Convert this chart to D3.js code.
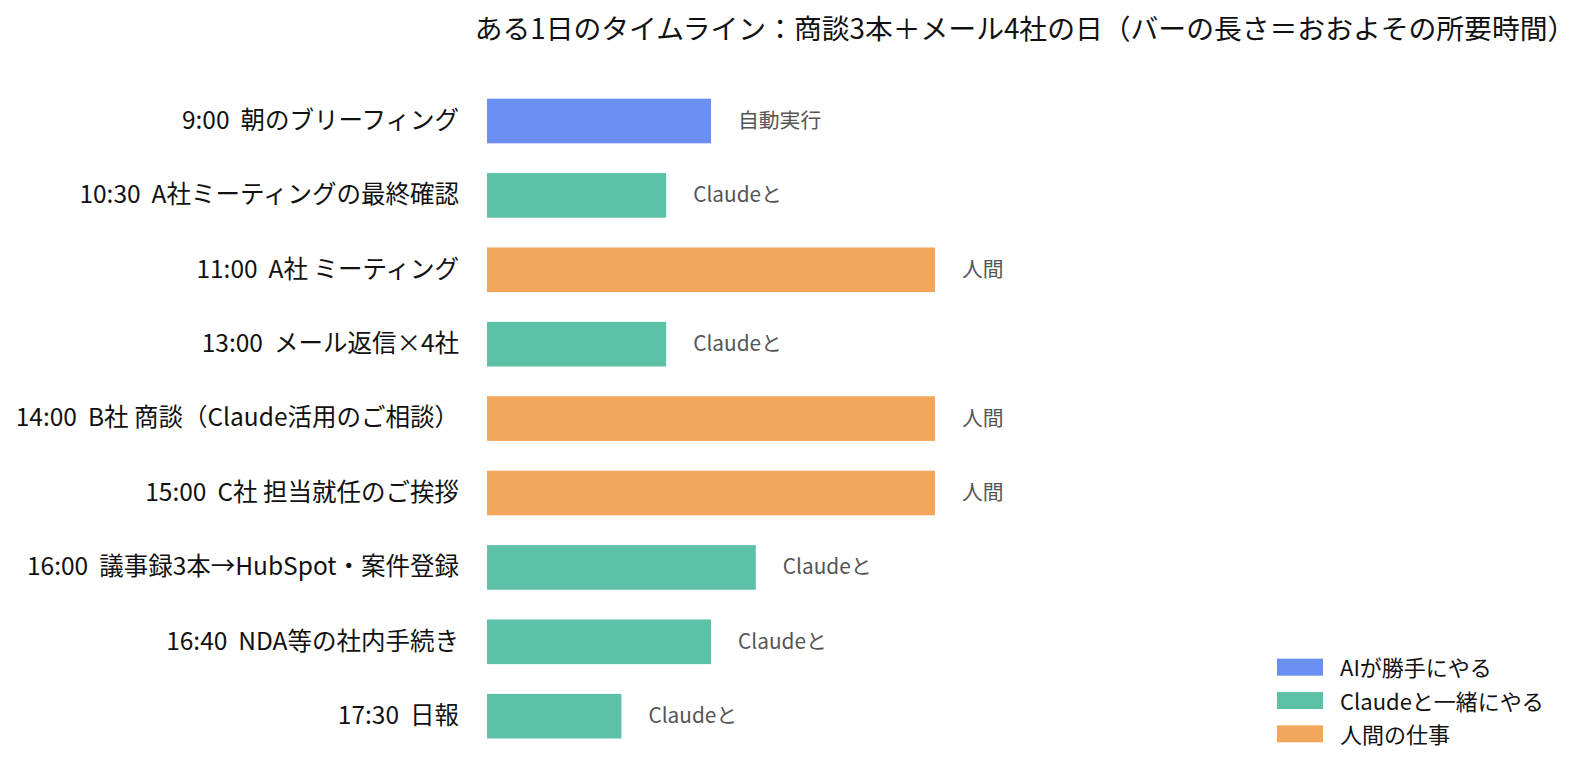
<!DOCTYPE html>
<html><head><meta charset="utf-8">
<script src="https://cdn.jsdelivr.net/npm/d3@7"></script>
<style>
body{margin:0;background:#fff;}
text{font-family:"Noto Sans CJK JP","Noto Sans",sans-serif;white-space:pre;}
</style></head><body>
<svg id="chart" width="1592" height="784"></svg>
<script>
const categories = ["9:00  朝のブリーフィング","10:30  A社ミーティングの最終確認","11:00  A社 ミーティング","13:00  メール返信×4社","14:00  B社 商談（Claude活用のご相談）","15:00  C社 担当就任のご挨拶","16:00  議事録3本→HubSpot・案件登録","16:40  NDA等の社内手続き","17:30  日報"];
const durations = [30,24,60,24,60,60,36,30,18];
const types = ["ai","claude","human","claude","human","human","claude","claude","claude"];
const barLabels = ["自動実行","Claudeと","人間","Claudeと","人間","人間","Claudeと","Claudeと","Claudeと"];
const legendKeys = ["ai","claude","human"];
const legendLabels = ["AIが勝手にやる","Claudeと一緒にやる","人間の仕事"];
const colors = ["#6c8ff4","#5dc1a8","#f1a65c"];
const title = "ある1日のタイムライン：商談3本＋メール4社の日（バーの長さ＝おおよその所要時間）";

const svg = d3.select("#chart");
const x = d3.scaleLinear().domain([0,60]).range([487,935]);
const y = d3.scaleBand().domain(categories).range([83.8,753.4]).paddingInner(0.4).paddingOuter(0.2);
const color = d3.scaleOrdinal().domain(legendKeys).range(colors);

svg.append("text").attr("x",1025).attr("y",26.5).attr("text-anchor","middle")
  .attr("dominant-baseline","central").attr("font-size",27.8).attr("fill","#111").text(title);

const yAxis = d3.axisLeft(y).tickSize(0).tickPadding(0);
const ga = svg.append("g").attr("transform","translate(459,0)").call(yAxis);
ga.select(".domain").remove();
ga.selectAll("text").attr("font-size",24.5).attr("fill","#111").attr("font-family",null);

const rows = categories.map((c,i)=>({c, v:durations[i], t:types[i], l:barLabels[i]}));
svg.append("g").selectAll("rect").data(rows).join("rect")
  .attr("x",x(0)).attr("y",d=>y(d.c)).attr("width",d=>x(d.v)-x(0)).attr("height",y.bandwidth())
  .attr("fill",d=>color(d.t));
svg.append("g").selectAll("text").data(rows).join("text")
  .attr("x",d=>x(d.v)+27).attr("y",d=>y(d.c)+y.bandwidth()/2-2).attr("dominant-baseline","central")
  .attr("font-size",20.8).attr("fill","#555").text(d=>d.l);

const ly = d3.scaleBand().domain(legendKeys).range([650.5,750.5]);
const lg = svg.append("g").selectAll("g").data(legendKeys).join("g")
  .attr("transform",d=>`translate(1277,${ly(d)+ly.bandwidth()/2})`);
lg.append("rect").attr("x",0).attr("y",-8.5).attr("width",46).attr("height",17).attr("fill",d=>color(d));
lg.append("text").attr("x",63).attr("y",-1).attr("dominant-baseline","central").attr("font-size",22)
  .attr("fill","#111").text((d,i)=>legendLabels[i]);
</script></body></html>
